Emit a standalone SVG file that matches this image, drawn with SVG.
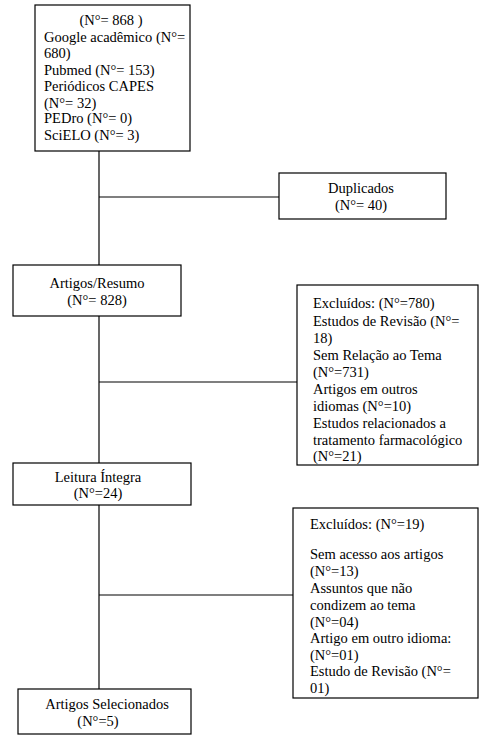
<svg xmlns="http://www.w3.org/2000/svg" width="488" height="742" viewBox="0 0 488 742">
<style>
.box{fill:#fff;stroke:#000;stroke-width:1.2}
.ln{stroke:#000;stroke-width:1.2;fill:none}
text{font-family:'Liberation Serif','DejaVu Serif',serif;font-size:14.5px;fill:#000}
.c{text-anchor:middle}
</style>
<rect width="488" height="742" fill="#fff"/>
<g id="connectors">
<line class="ln" x1="99" y1="151" x2="99" y2="265"/>
<line class="ln" x1="99" y1="316" x2="99" y2="463"/>
<line class="ln" x1="99" y1="505" x2="99" y2="689"/>
<line class="ln" x1="99" y1="197" x2="279" y2="197"/>
<line class="ln" x1="99" y1="382" x2="297" y2="382"/>
<line class="ln" x1="99" y1="595" x2="293" y2="595"/>
</g>
<g font-family="Liberation Serif, DejaVu Serif, serif">
<g id="n1">
<rect class="box" x="35" y="5" width="155" height="146"/>
<text class="c" x="111" y="25">(N°= 868 )</text>
<text x="44" y="42">Google acadêmico (N°=</text>
<text x="44" y="58">680)</text>
<text x="44" y="75">Pubmed (N°= 153)</text>
<text x="44" y="91">Periódicos CAPES</text>
<text x="44" y="108">(N°= 32)</text>
<text x="44" y="123">PEDro (N°= 0)</text>
<text x="44" y="140">SciELO (N°= 3)</text>
</g>
<g id="n2">
<rect class="box" x="279" y="173" width="167" height="46"/>
<text class="c" x="361" y="193">Duplicados</text>
<text class="c" x="361" y="210">(N°= 40)</text>
</g>
<g id="n3">
<rect class="box" x="13" y="265" width="168" height="51"/>
<text class="c" x="97" y="288">Artigos/Resumo</text>
<text class="c" x="97" y="305">(N°= 828)</text>
</g>
<g id="n4">
<rect class="box" x="297" y="285" width="181" height="180"/>
<text x="313" y="308">Excluídos: (N°=780)</text>
<text x="313" y="326">Estudos de Revisão (N°=</text>
<text x="313" y="343">18)</text>
<text x="313" y="360">Sem Relação ao Tema</text>
<text x="313" y="377">(N°=731)</text>
<text x="313" y="394">Artigos em outros</text>
<text x="313" y="411">idiomas (N°=10)</text>
<text x="313" y="428">Estudos relacionados a</text>
<text x="313" y="445">tratamento farmacológico</text>
<text x="313" y="461">(N°=21)</text>
</g>
<g id="n5">
<rect class="box" x="13" y="463" width="178" height="42"/>
<text class="c" x="98" y="482">Leitura Íntegra</text>
<text class="c" x="98" y="498">(N°=24)</text>
</g>
<g id="n6">
<rect class="box" x="293" y="508" width="185" height="190"/>
<text x="310" y="529">Excluídos: (N°=19)</text>
<text x="310" y="559">Sem acesso aos artigos</text>
<text x="310" y="576">(N°=13)</text>
<text x="310" y="593">Assuntos que não</text>
<text x="310" y="610">condizem ao tema</text>
<text x="310" y="627">(N°=04)</text>
<text x="310" y="643">Artigo em outro idioma:</text>
<text x="310" y="660">(N°=01)</text>
<text x="310" y="676">Estudo de Revisão (N°=</text>
<text x="310" y="693">01)</text>
</g>
<g id="n7">
<rect class="box" x="18" y="689" width="173" height="45"/>
<text class="c" x="107" y="709">Artigos Selecionados</text>
<text class="c" x="98" y="726">(N°=5)</text>
</g>
</g>
</svg>
